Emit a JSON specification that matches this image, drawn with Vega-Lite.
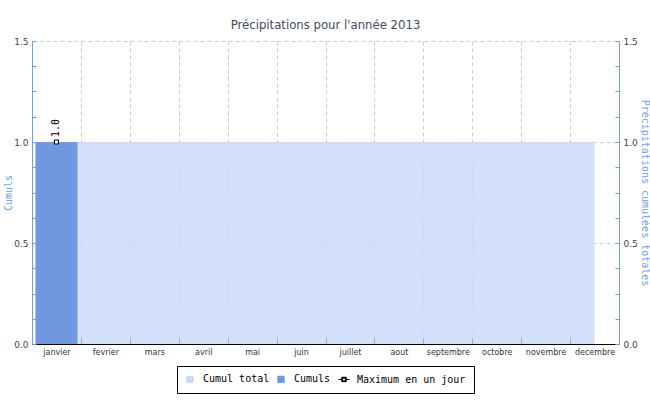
{
  "$schema": "https://vega.github.io/schema/vega-lite/v6.json",
  "width": 587,
  "height": 303,
  "autosize": "none",
  "padding": {"left": 32, "top": 41, "right": 31, "bottom": 56},
  "title": {
    "text": "Précipitations pour l'année 2013",
    "fontSize": 13,
    "font": "DejaVu Sans Condensed",
    "fontWeight": "normal",
    "color": "#3f4b5f",
    "offset": 5
  },
  "config": {
    "view": {"stroke": null},
    "font": "DejaVu Sans",
    "legend": {"layout": {"bottom": {"anchor": "middle"}}}
  },
  "data": {
    "values": [
      {"mois": "janvier", "total": 1.0, "cumul": 1.0, "max": 1.0},
      {"mois": "fevrier", "total": 1.0, "cumul": 0, "max": null},
      {"mois": "mars", "total": 1.0, "cumul": 0, "max": null},
      {"mois": "avril", "total": 1.0, "cumul": 0, "max": null},
      {"mois": "mai", "total": 1.0, "cumul": 0, "max": null},
      {"mois": "juin", "total": 1.0, "cumul": 0, "max": null},
      {"mois": "juillet", "total": 1.0, "cumul": 0, "max": null},
      {"mois": "aout", "total": 1.0, "cumul": 0, "max": null},
      {"mois": "septembre", "total": 1.0, "cumul": 0, "max": null},
      {"mois": "octobre", "total": 1.0, "cumul": 0, "max": null},
      {"mois": "novembre", "total": 1.0, "cumul": 0, "max": null},
      {"mois": "decembre", "total": 1.0, "cumul": 0, "max": null}
    ]
  },
  "encoding": {
    "x": {
      "field": "mois",
      "type": "ordinal",
      "sort": null,
      "scale": {"paddingInner": 0, "paddingOuter": 0},
      "axis": {
        "title": null,
        "labelAngle": 0,
        "labelFontSize": 8,
        "labelColor": "#333333",
        "labelPadding": 10,
        "domainColor": "#000000",
        "tickColor": "#000000",
        "tickSize": -6,
        "tickBand": "extent",
        "grid": true,
        "gridColor": "#cccccc",
        "gridDash": [4, 3]
      }
    },
    "color": {
      "scale": {
        "domain": ["Cumul total", "Cumuls", "Maximum en un jour"],
        "range": ["#c7d9f7", "#6f98de", "#000000"]
      },
      "legend": {
        "orient": "bottom",
        "direction": "horizontal",
        "title": null,
        "offset": 10,
        "strokeColor": "#000000",
        "padding": 8,
        "labelFont": "DejaVu Sans Mono",
        "labelFontSize": 10,
        "labelColor": "#000000",
        "symbolType": "square",
        "symbolSize": 40,
        "symbolStrokeColor": "#000000",
        "symbolStrokeWidth": 1,
        "symbolOpacity": 1,
        "columnPadding": 5,
        "labelOffset": 8,
        "encode": {
          "symbols": {
            "update": {
              "shape": {"signal": "datum.value === 'Maximum en un jour' ? 'M-1.7,0H-0.7M0.7,0H1.7M-0.7,-0.7H0.7V0.7H-0.7ZM-0.45,-0.45V0.45H0.45V-0.45Z' : 'square'"},
              "stroke": {"value": "#000000"},
              "strokeWidth": {"value": 1}
            }
          }
        }
      }
    }
  },
  "layer": [
    {
      "mark": {"type": "area", "opacity": 0.8},
      "encoding": {
        "y": {
          "field": "total",
          "type": "quantitative",
          "scale": {"domain": [0, 1.5]},
          "axis": {
            "orient": "right",
            "title": "Précipitations cumulées totales",
            "titleFont": "DejaVu Sans Mono",
            "titleFontSize": 10,
            "titleFontWeight": "normal",
            "titleColor": "#6d9eeb",
            "titlePadding": 2,
            "values": [0, 0.125, 0.25, 0.375, 0.5, 0.625, 0.75, 0.875, 1, 1.125, 1.25, 1.375, 1.5],
            "labelExpr": "datum.value % 0.5 === 0 ? format(datum.value, '.1f') : ''",
            "labelFontSize": 9,
            "labelColor": "#444444",
            "domainColor": "#6d9eeb",
            "tickColor": "#6d9eeb",
            "tickSize": -4,
            "labelPadding": 8,
            "grid": false
          }
        },
        "color": {"datum": "Cumul total"}
      }
    },
    {
      "encoding": {
        "y": {
          "field": "cumul",
          "type": "quantitative",
          "scale": {"domain": [0, 1.5]},
          "axis": {
            "orient": "left",
            "title": "Cumuls",
            "titleFont": "DejaVu Sans Mono",
            "titleFontSize": 10,
            "titleFontWeight": "normal",
            "titleColor": "#6d9eeb",
            "titlePadding": 0,
            "values": [0, 0.125, 0.25, 0.375, 0.5, 0.625, 0.75, 0.875, 1, 1.125, 1.25, 1.375, 1.5],
            "labelExpr": "datum.value % 0.5 === 0 ? format(datum.value, '.1f') : ''",
            "labelFontSize": 9,
            "labelColor": "#444444",
            "domainColor": "#6d9eeb",
            "tickColor": "#6d9eeb",
            "tickSize": -4,
            "labelPadding": 8,
            "grid": true,
            "gridColor": "#cccccc",
            "gridDash": [4, 3],
            "gridOpacity": {"condition": {"test": "datum.value % 0.5 !== 0", "value": 0}, "value": 1}
          }
        }
      },
      "layer": [
        {
          "mark": {"type": "bar", "width": {"band": 0.86}},
          "encoding": {
            "color": {"datum": "Cumuls"}
          }
        },
        {
          "transform": [{"filter": "datum.max != null"}],
          "mark": {"type": "point", "shape": "square", "filled": false, "fill": "#ffffff", "stroke": "#000000", "size": 16, "strokeWidth": 1, "opacity": 1},
          "encoding": {
            "y": {"field": "max", "type": "quantitative", "title": "Cumuls"},
            "color": {"datum": "Maximum en un jour"}
          }
        },
        {
          "transform": [{"filter": "datum.max != null"}],
          "mark": {"type": "text", "angle": 270, "align": "left", "baseline": "middle", "dx": 5, "font": "DejaVu Sans Mono", "fontSize": 10, "color": "#000000"},
          "encoding": {
            "y": {"field": "max", "type": "quantitative", "title": "Cumuls"},
            "text": {"field": "max", "type": "quantitative", "format": ".1f"}
          }
        }
      ]
    }
  ],
  "resolve": {"scale": {"y": "independent"}}
}
